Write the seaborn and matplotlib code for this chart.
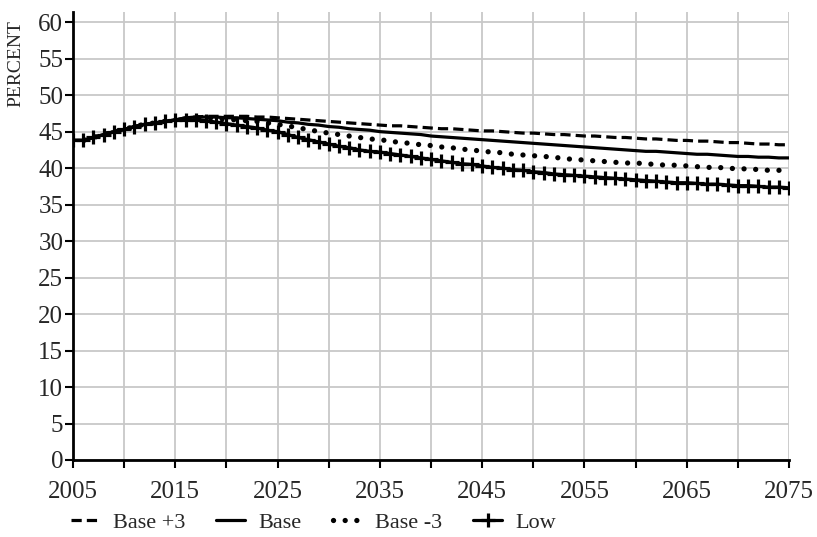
import numpy as np
import pandas as pd
import matplotlib.pyplot as plt
import seaborn as sns

years = list(range(2005, 2076))

# shared path up to 2015
early = [43.8, 43.8, 44.2, 44.6, 45.0, 45.3, 45.7, 46.0, 46.2, 46.4, 46.6]

base_plus3 = early + [
    46.9, 47.0, 47.1, 47.1, 47.1, 47.1, 47.1, 47.0, 47.0, 46.9,
    46.8, 46.7, 46.6, 46.5, 46.4, 46.3, 46.2, 46.1, 46.0, 45.9,
    45.8, 45.8, 45.7, 45.6, 45.5, 45.4, 45.4, 45.3, 45.2, 45.1,
    45.1, 45.0, 44.9, 44.8, 44.8, 44.7, 44.6, 44.6, 44.5, 44.4,
    44.4, 44.3, 44.2, 44.2, 44.1, 44.0, 44.0, 43.9, 43.8, 43.8,
    43.7, 43.7, 43.6, 43.5, 43.5, 43.4, 43.3, 43.3, 43.2, 43.2]

base = early + [
    46.9, 47.0, 47.0, 47.0, 46.9, 46.9, 46.8, 46.7, 46.6, 46.5,
    46.3, 46.2, 46.0, 45.9, 45.7, 45.6, 45.4, 45.3, 45.2, 45.0,
    44.9, 44.8, 44.7, 44.6, 44.4, 44.3, 44.2, 44.1, 44.0, 43.9,
    43.8, 43.7, 43.6, 43.5, 43.4, 43.3, 43.2, 43.1, 43.0, 42.9,
    42.8, 42.7, 42.6, 42.5, 42.4, 42.3, 42.3, 42.2, 42.1, 42.0,
    41.9, 41.9, 41.8, 41.7, 41.6, 41.6, 41.5, 41.5, 41.4, 41.4]

base_minus3 = early + [
    46.8, 46.9, 46.9, 46.8, 46.7, 46.6, 46.5, 46.4, 46.2, 46.0,
    45.8, 45.5, 45.3, 45.0, 44.8, 44.6, 44.4, 44.2, 44.0, 43.9,
    43.7, 43.5, 43.4, 43.2, 43.1, 42.9, 42.8, 42.6, 42.5, 42.3,
    42.2, 42.1, 41.9, 41.8, 41.7, 41.6, 41.5, 41.3, 41.2, 41.1,
    41.0, 40.9, 40.8, 40.7, 40.7, 40.6, 40.5, 40.4, 40.4, 40.3,
    40.2, 40.1, 40.1, 40.0, 39.9, 39.9, 39.8, 39.7, 39.7, 39.6]

low = early + [
    46.6, 46.6, 46.5, 46.3, 46.1, 45.9, 45.7, 45.5, 45.2, 45.0,
    44.6, 44.2, 43.9, 43.6, 43.3, 43.0, 42.8, 42.5, 42.3, 42.2,
    42.0, 41.8, 41.6, 41.4, 41.2, 41.0, 40.8, 40.6, 40.5, 40.3,
    40.1, 40.0, 39.8, 39.7, 39.5, 39.4, 39.2, 39.1, 39.0, 38.9,
    38.8, 38.7, 38.6, 38.5, 38.4, 38.3, 38.2, 38.1, 38.0, 38.0,
    37.9, 37.8, 37.8, 37.7, 37.6, 37.6, 37.5, 37.4, 37.4, 37.3]

sns.set_style('white')
plt.rcParams['font.family'] = ['Liberation Serif', 'DejaVu Serif']

fig = plt.figure(figsize=(8.17, 5.37), dpi=100)
ax = fig.add_axes([0.0894, 0.1434, 0.8764, 0.8343])

sns.lineplot(x=years, y=base_plus3, ax=ax, color='black', lw=2.3,
             linestyle=(0, (3.2, 1.6)), label='Base +3')
sns.lineplot(x=years, y=base, ax=ax, color='black', lw=2.3, label='Base')
sns.lineplot(x=years, y=base_minus3, ax=ax, color='black', lw=3.8,
             linestyle=(0, (0.01, 2.2)), dash_capstyle='round', label='Base -3')
sns.lineplot(x=years, y=low, ax=ax, color='black', lw=2.3, marker='+',
             markersize=10, markeredgewidth=2.3, markeredgecolor='black',
             label='Low')

ax.set_xlim(2005, 2075)
ax.set_ylim(0, 61.4)
ax.set_xticks(range(2005, 2076, 10))
ax.set_xticks(range(2010, 2076, 10), minor=True)
ax.set_yticks(range(0, 61, 5))
ax.grid(which='both', color='#c8c8c8', lw=1.3)
ax.set_axisbelow(True)

for s in ['top', 'right']:
    ax.spines[s].set_visible(False)
for s in ['left', 'bottom']:
    ax.spines[s].set_color('black')
    ax.spines[s].set_linewidth(2.0)

ax.tick_params(axis='both', which='both', direction='out', length=6, width=1.5,
               color='black', labelsize=18, left=True, bottom=True, pad=1)
ax.tick_params(axis='x', pad=9)

ax.set_ylabel('PERCENT', fontsize=14)
ax.yaxis.set_label_coords(-0.068, 0.885)

ax.legend(loc='lower left', bbox_to_anchor=(0.062, -0.03), bbox_transform=fig.transFigure,
          ncol=4, frameon=False, fontsize=16, handlelength=1.3, handletextpad=0.6,
          columnspacing=1.4)

fig.savefig('out.png', dpi=100)
